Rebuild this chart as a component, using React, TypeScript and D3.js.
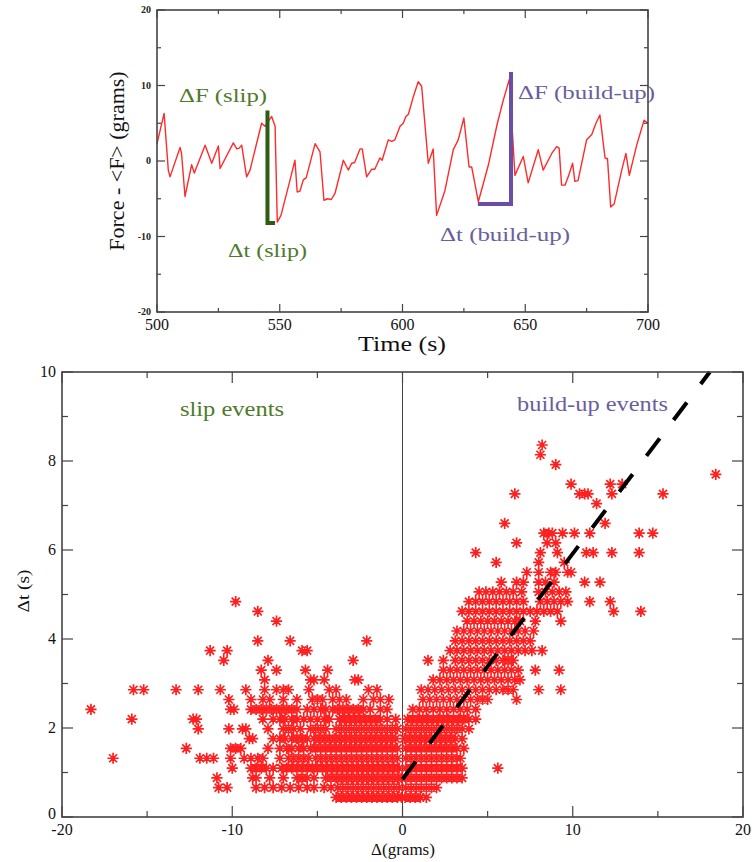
import React from "react";
import * as d3 from "d3";

// ---------- top panel: force trace ----------
const timeS = [500.0, 502.9, 504.6, 505.3, 509.4, 510.0, 511.4, 514.1, 515.2, 519.6, 522.3, 525.0, 525.7, 531.1, 532.5, 533.5, 534.5, 536.5, 537.9, 542.6, 544.0, 546.7, 548.1, 549.0, 550.5, 554.2, 556.2, 557.1, 558.2, 559.6, 560.8, 564.4, 566.4, 568.0, 569.5, 571.0, 572.5, 575.9, 577.9, 579.3, 580.5, 582.7, 583.6, 585.4, 587.4, 588.7, 590.8, 591.7, 594.2, 595.6, 596.9, 599.0, 600.3, 601.4, 602.4, 604.4, 606.4, 607.8, 610.5, 612.5, 613.9, 617.3, 620.7, 622.7, 625.0, 627.1, 628.2, 630.9, 635.0, 638.5, 641.0, 643.5, 645.8, 649.2, 651.2, 655.3, 657.3, 660.8, 662.8, 663.8, 664.8, 666.2, 667.5, 669.3, 670.2, 671.5, 675.0, 677.1, 678.8, 680.4, 682.5, 683.5, 684.8, 686.2, 689.3, 691.0, 692.4, 695.4, 698.4, 700.0];
const forceG = [2.3, 6.3, -1.2, -2.1, 1.8, 1.0, -4.7, -0.5, -1.6, 2.1, -0.3, 2.0, -1.0, 2.4, 1.6, 1.7, 2.1, -2.1, -1.2, 5.0, 4.6, 5.9, 4.6, -8.1, -7.2, -2.5, 0.1, -4.1, -4.0, -2.5, -2.2, 2.3, 1.2, -5.2, -5.0, -5.1, -4.3, 0.1, -1.2, -0.3, -0.2, 1.6, 1.6, -2.1, -1.1, -1.1, 0.4, 0.1, 2.8, 2.6, 2.8, 4.6, 5.0, 5.9, 6.2, 8.5, 10.5, 9.9, -0.3, 1.6, -7.2, -3.9, 1.5, 2.8, 5.7, -0.8, -0.8, -5.4, -0.5, 4.8, 8.0, 10.8, -1.9, 0.6, -2.9, 1.5, -1.2, 1.0, 1.9, 1.7, -3.2, -3.2, -2.1, -0.3, -2.7, -2.6, 2.8, 3.5, 5.0, 6.1, 0.4, 0.3, -6.1, -5.7, -1.2, 1.0, -1.9, 2.1, 5.4, 5.0];

// annotation bars (time, force)
const slipBarT = [545.0, 548.1];
const slipBarF = [6.7, -8.2];
const buildBarT = [630.7, 644.2];
const buildBarF = [-5.7, 11.8];

const topXTicks = [500, 550, 600, 650, 700];
const topXMinor = [525, 575, 625, 675];
const topYTicks = [-20, -10, 0, 10, 20];
const topYMinor = [-15, -5, 5, 15];

// ---------- bottom panel: scatter ----------
const dtLevels = [0.44, 0.66, 0.88, 1.10, 1.32, 1.54, 1.76, 1.98, 2.20, 2.42, 2.64, 2.86, 3.08, 3.30, 3.52, 3.74, 3.96, 4.18, 4.40, 4.62, 4.84, 5.06, 5.28, 5.50, 5.72, 5.94, 6.16, 6.38, 6.60, 6.82, 7.04, 7.26, 7.48, 7.70, 7.92, 8.14, 8.36];

const slipDF: number[][] = [
  [-3.9, -3.6, -3.3, -3.0, -2.7, -2.4, -2.1, -1.8, -1.5, -1.2, -0.9, -0.6, -0.3, -0.05],
  [-10.8, -10.3, -8.6, -8.1, -7.6, -7.1, -6.6, -6.1, -5.6, -5.2, -4.6, -4.2, -3.8, -3.5, -3.2, -2.9, -2.6, -2.3, -2.0, -1.7, -1.4, -1.1, -0.8, -0.5, -0.2],
  [-10.9, -8.8, -8.6, -7.8, -7.0, -6.2, -5.9, -5.6, -5.2, -4.5, -4.2, -3.9, -3.6, -3.3, -3.0, -2.7, -2.4, -2.1, -1.8, -1.5, -1.2, -0.9, -0.6, -0.3, -0.05],
  [-10.0, -8.9, -8.6, -8.3, -8.0, -7.6, -7.1, -6.8, -6.5, -6.2, -5.9, -5.6, -5.3, -5.0, -4.7, -4.4, -4.1, -3.8, -3.5, -3.2, -2.9, -2.6, -2.3, -2.0, -1.7, -1.4, -1.1, -0.8, -0.5, -0.2],
  [-17.0, -11.9, -11.5, -11.1, -10.1, -9.3, -8.9, -8.5, -8.2, -7.2, -6.7, -6.4, -6.1, -5.8, -5.5, -5.1, -4.8, -4.5, -4.2, -3.9, -3.6, -3.3, -3.0, -2.7, -2.4, -2.1, -1.8, -1.5, -1.2, -0.9, -0.6, -0.3],
  [-12.7, -10.1, -9.8, -9.5, -7.9, -7.2, -6.8, -6.5, -6.1, -5.8, -5.4, -5.1, -4.8, -4.5, -4.2, -3.9, -3.6, -3.3, -3.0, -2.7, -2.4, -2.1, -1.8, -1.5, -1.2, -0.9, -0.6, -0.3],
  [-9.0, -8.8, -7.6, -7.2, -6.9, -6.5, -6.2, -5.9, -5.6, -5.2, -4.9, -4.6, -4.3, -4.0, -3.7, -3.4, -3.1, -2.8, -2.5, -2.2, -1.9, -1.6, -1.3, -1.0, -0.7, -0.4],
  [-12.0, -10.2, -9.4, -9.2, -7.9, -7.0, -6.7, -6.4, -6.0, -5.4, -5.1, -4.8, -4.5, -3.9, -3.6, -3.3, -3.0, -2.7, -2.4, -2.1, -1.8, -1.5, -1.2, -0.9, -0.6, -0.3],
  [-15.9, -12.3, -12.1, -8.2, -7.6, -7.2, -6.9, -6.5, -6.2, -5.8, -5.4, -5.0, -4.6, -4.3, -3.7, -3.4, -3.1, -2.8, -2.5, -2.2, -1.9, -1.6, -1.3, -0.9, -0.4],
  [-18.3, -10.1, -9.9, -8.9, -8.6, -8.3, -8.0, -7.7, -7.4, -7.1, -6.8, -6.5, -6.2, -5.6, -5.2, -4.8, -4.5, -4.1, -3.8, -3.5, -3.2, -2.9, -2.6, -2.3, -1.9, -1.3, -0.9],
  [-10.2, -8.9, -8.2, -7.8, -7.0, -6.2, -5.3, -5.0, -4.7, -4.1, -3.7, -3.3, -2.3, -1.7, -1.3, -0.8],
  [-15.8, -15.2, -13.3, -12.0, -10.7, -9.2, -8.1, -7.4, -7.0, -6.7, -5.5, -4.3, -3.9, -2.0, -1.5],
  [-8.1, -5.4, -5.2, -4.6, -2.8, -2.6],
  [-8.3, -7.4, -5.7, -4.4],
  [-10.5, -7.9, -2.9],
  [-11.3, -10.3, -5.9, -5.6],
  [-8.5, -6.6, -2.1],
  [],
  [-7.4],
  [-8.5],
  [-9.8],
  [], [], [], [], [], [], [], [], [], [], [], [], [], [], [], [],
];

const buildDF: number[][] = [
  [0.15, 0.45, 0.75, 1.05, 1.4],
  [0.2, 0.5, 0.8, 1.1, 1.4, 1.7, 2.0],
  [0.2, 0.5, 0.8, 1.1, 1.4, 1.7, 2.0, 2.3, 2.6, 2.9, 3.2, 3.5],
  [0.2, 0.5, 0.8, 1.1, 1.4, 1.7, 2.0, 2.3, 2.6, 2.9, 3.2, 3.5, 5.6],
  [0.2, 0.5, 0.8, 1.1, 1.4, 1.7, 2.0, 2.3, 2.6, 2.9, 3.2, 3.4],
  [0.2, 0.5, 0.8, 1.1, 1.4, 1.7, 2.0, 2.3, 2.6, 2.9, 3.2, 3.6],
  [0.1, 0.4, 0.7, 1.0, 1.3, 1.6, 1.9, 2.2, 2.5, 2.8, 3.1, 3.5],
  [0.2, 0.5, 0.8, 1.1, 1.4, 1.7, 2.0, 2.3, 2.6, 2.9, 3.2, 3.5, 3.9],
  [0.3, 0.6, 0.9, 1.2, 1.5, 1.8, 2.1, 2.4, 2.7, 3.0, 3.3, 3.6, 3.9, 4.3],
  [0.6, 1.0, 1.4, 1.8, 2.2, 2.6, 3.0, 3.4, 3.8, 4.3],
  [1.2, 1.6, 2.0, 2.4, 2.8, 3.2, 3.6, 4.0, 4.4, 4.7, 5.0, 6.7],
  [1.1, 1.5, 1.9, 2.3, 2.7, 3.1, 3.5, 3.9, 4.3, 4.7, 5.1, 5.5, 5.9, 6.2, 6.5, 8.0, 9.3],
  [1.8, 2.2, 2.6, 3.0, 3.4, 3.8, 4.2, 4.6, 5.0, 5.4, 5.8, 6.2, 6.6, 6.9],
  [2.4, 2.8, 3.2, 3.6, 4.0, 4.4, 4.8, 5.2, 5.6, 6.0, 6.4, 6.8, 7.8, 9.2],
  [1.5, 2.4, 3.1, 3.5, 3.9, 4.3, 4.7, 5.1, 5.5, 5.9, 6.2, 6.5],
  [2.8, 3.2, 3.6, 4.0, 4.4, 4.8, 5.2, 5.6, 6.0, 6.4, 6.8, 7.2, 7.6, 8.2],
  [3.1, 3.5, 3.9, 4.3, 4.7, 5.1, 5.5, 5.9, 6.3, 6.7, 7.1, 7.5],
  [3.2, 3.6, 4.0, 4.4, 4.8, 5.2, 5.6, 6.0, 6.4, 6.8, 7.2, 7.7],
  [3.8, 4.2, 4.6, 5.0, 5.4, 5.8, 6.2, 6.6, 6.9, 7.8, 9.3],
  [3.5, 3.9, 4.3, 4.7, 5.1, 5.5, 5.9, 6.3, 6.7, 7.1, 7.5, 7.9, 8.3, 8.7, 9.1, 12.4, 14.0],
  [3.9, 4.3, 4.7, 5.1, 5.5, 5.9, 6.3, 6.7, 7.1, 8.1, 8.5, 8.9, 9.3, 9.7, 11.0, 12.2],
  [4.5, 4.9, 5.3, 5.7, 6.1, 6.5, 7.0, 8.0, 8.4, 8.8, 9.2, 9.6],
  [5.8, 6.7, 7.1, 8.0, 8.4, 8.9, 10.7, 11.6],
  [7.3, 8.0, 8.7, 9.0, 9.7, 9.9],
  [5.5, 8.0, 9.5],
  [4.3, 8.1, 9.1, 10.8, 11.2, 12.3, 13.9],
  [6.7, 8.5, 9.0],
  [8.3, 8.6, 8.8, 9.4, 10.1, 11.0, 13.9, 14.7],
  [6.0, 11.9],
  [],
  [11.4],
  [6.6, 10.4, 10.7, 10.9, 12.3, 15.3],
  [9.9, 12.2, 12.9],
  [18.4],
  [9.0],
  [8.1],
  [8.2],
];

// dashed fit line endpoints
const fitDF = [0, 18.05];
const fitDt = [0.85, 10];

const botXTicks = [-20, -10, 0, 10, 20];
const botXMinor = [-15, -5, 5, 15];
const botYTicks = [0, 2, 4, 6, 8, 10];
const botYMinor = [1, 3, 5, 7, 9];

const SERIF = "'Liberation Serif', 'Times New Roman', serif";
const GREEN_TXT = "#4f7a2c";
const GREEN_BAR = "#2e5c12";
const PURPLE_TXT = "#6a5e9e";
const PURPLE_BAR = "#6a4ea6";
const FRAME = "#444";

function fmt(v: number) {
  return String(v);
}

export default function App() {
  // top scales
  const tx = d3.scaleLinear().domain([500, 700]).range([157, 648]);
  const ty = d3.scaleLinear().domain([-20, 20]).range([312, 10]);
  // bottom scales
  const bx = d3.scaleLinear().domain([-20, 20]).range([62, 743]);
  const by = d3.scaleLinear().domain([0, 10]).range([817, 372]);

  const tracePath =
    d3
      .line<number>()
      .x((_, i) => tx(timeS[i]))
      .y((d) => ty(d))(forceG) || "";

  const pts: [number, number][] = [];
  slipDF.forEach((row, i) => row.forEach((v) => pts.push([v, dtLevels[i]])));
  buildDF.forEach((row, i) => row.forEach((v) => pts.push([v, dtLevels[i]])));
  const r = 5.6;
  const dd = 4.0;
  const starPath = pts
    .map(([x, y]) => {
      const X = bx(x);
      const Y = by(y);
      return `M${X - r},${Y}h${2 * r}M${X},${Y - r}v${2 * r}M${X - dd},${Y - dd}l${2 * dd},${2 * dd}M${X - dd},${Y + dd}l${2 * dd},${-2 * dd}`;
    })
    .join("");

  const [tx0, tx1] = tx.range();
  const [ty0, ty1] = ty.range(); // bottom, top
  const [bx0, bx1] = bx.range();
  const [by0, by1] = by.range();

  const topMaj = 8;
  const topMin = 4;
  const botMaj = 11;
  const botMin = 6;

  return (
    <svg
      width={755}
      height={862}
      style={{ position: "absolute", left: 0, top: 0, background: "#fff" }}
      fontFamily={SERIF}
    >
      <rect x={0} y={0} width={755} height={862} fill="#fff" />

      {/* ================= TOP PANEL ================= */}
      <path d={tracePath} fill="none" stroke="#ff2a2a" strokeWidth={1.4} strokeLinejoin="round" />

      {/* slip bar */}
      <path
        d={`M${tx(slipBarT[0])},${ty(slipBarF[0])}V${ty(slipBarF[1])}H${tx(slipBarT[1])}`}
        fill="none"
        stroke={GREEN_BAR}
        strokeWidth={4}
      />
      {/* build-up bar */}
      <path
        d={`M${tx(buildBarT[0])},${ty(buildBarF[0])}H${tx(buildBarT[1])}V${ty(buildBarF[1])}`}
        fill="none"
        stroke={PURPLE_BAR}
        strokeWidth={4}
      />

      <text x={179} y={102} fontSize={19} fill={GREEN_TXT} textLength={88} lengthAdjust="spacingAndGlyphs">
        ΔF (slip)
      </text>
      <text x={228} y={257} fontSize={19} fill={GREEN_TXT} textLength={79} lengthAdjust="spacingAndGlyphs">
        Δt (slip)
      </text>
      <text x={518} y={99} fontSize={19} fill={PURPLE_TXT} textLength={137} lengthAdjust="spacingAndGlyphs">
        ΔF (build-up)
      </text>
      <text x={440} y={241} fontSize={19} fill={PURPLE_TXT} textLength={130} lengthAdjust="spacingAndGlyphs">
        Δt (build-up)
      </text>

      {/* ticks top panel */}
      <g stroke={FRAME} strokeWidth={1.2}>
        {topXTicks.map((t) => (
          <g key={"tx" + t}>
            <line x1={tx(t)} x2={tx(t)} y1={ty0} y2={ty0 - topMaj} />
            <line x1={tx(t)} x2={tx(t)} y1={ty1} y2={ty1 + topMaj} />
          </g>
        ))}
        {topXMinor.map((t) => (
          <g key={"txm" + t}>
            <line x1={tx(t)} x2={tx(t)} y1={ty0} y2={ty0 - topMin} />
            <line x1={tx(t)} x2={tx(t)} y1={ty1} y2={ty1 + topMin} />
          </g>
        ))}
        {topYTicks.map((v) => (
          <g key={"ty" + v}>
            <line x1={tx0} x2={tx0 + topMaj} y1={ty(v)} y2={ty(v)} />
            <line x1={tx1} x2={tx1 - topMaj} y1={ty(v)} y2={ty(v)} />
          </g>
        ))}
        {topYMinor.map((v) => (
          <g key={"tym" + v}>
            <line x1={tx0} x2={tx0 + topMin} y1={ty(v)} y2={ty(v)} />
            <line x1={tx1} x2={tx1 - topMin} y1={ty(v)} y2={ty(v)} />
          </g>
        ))}
      </g>
      <rect x={tx0} y={ty1} width={tx1 - tx0} height={ty0 - ty1} fill="none" stroke={FRAME} strokeWidth={1.6} />

      {topXTicks.map((t) => (
        <text key={"txl" + t} x={tx(t)} y={330} fontSize={16} textAnchor="middle" fill="#111">
          {fmt(t)}
        </text>
      ))}
      {topYTicks.map((v) => (
        <text key={"tyl" + v} x={151} y={ty(v) + 3} fontSize={10} fontWeight="bold" textAnchor="end" fill="#222">
          {fmt(v)}
        </text>
      ))}
      <text x={402} y={351} fontSize={21} textAnchor="middle" fill="#111" textLength={88} lengthAdjust="spacingAndGlyphs">
        Time (s)
      </text>
      <text transform="translate(124,161) rotate(-90)" fontSize={22} textAnchor="middle" fill="#111">
        Force - &lt;F&gt; (grams)
      </text>

      {/* ================= BOTTOM PANEL ================= */}
      <line x1={bx(0)} x2={bx(0)} y1={by0} y2={by1} stroke="#444" strokeWidth={1} />
      <path d={starPath} fill="none" stroke="#ff1f1f" strokeWidth={1.7} />
      <line
        x1={bx(fitDF[0])}
        y1={by(fitDt[0])}
        x2={bx(fitDF[1])}
        y2={by(fitDt[1])}
        stroke="#000"
        strokeWidth={4}
        strokeDasharray="22,23"
      />

      <g stroke={FRAME} strokeWidth={1.2}>
        {botXTicks.map((t) => (
          <g key={"bx" + t}>
            <line x1={bx(t)} x2={bx(t)} y1={by0} y2={by0 - botMaj} />
            <line x1={bx(t)} x2={bx(t)} y1={by1} y2={by1 + botMaj} />
          </g>
        ))}
        {botXMinor.map((t) => (
          <g key={"bxm" + t}>
            <line x1={bx(t)} x2={bx(t)} y1={by0} y2={by0 - botMin} />
            <line x1={bx(t)} x2={bx(t)} y1={by1} y2={by1 + botMin} />
          </g>
        ))}
        {botYTicks.map((v) => (
          <g key={"by" + v}>
            <line x1={bx0} x2={bx0 + botMaj} y1={by(v)} y2={by(v)} />
            <line x1={bx1} x2={bx1 - botMaj} y1={by(v)} y2={by(v)} />
          </g>
        ))}
        {botYMinor.map((v) => (
          <g key={"bym" + v}>
            <line x1={bx0} x2={bx0 + botMin} y1={by(v)} y2={by(v)} />
            <line x1={bx1} x2={bx1 - botMin} y1={by(v)} y2={by(v)} />
          </g>
        ))}
      </g>
      <rect x={bx0} y={by1} width={bx1 - bx0} height={by0 - by1} fill="none" stroke={FRAME} strokeWidth={1.6} />

      {botXTicks.map((t) => (
        <text key={"bxl" + t} x={bx(t)} y={835} fontSize={16} textAnchor="middle" fill="#111">
          {fmt(t)}
        </text>
      ))}
      {botYTicks.map((v) => (
        <text key={"byl" + v} x={56} y={by(v) + (v === 0 ? 2 : 5)} fontSize={16} textAnchor="end" fill="#111">
          {fmt(v)}
        </text>
      ))}
      <text x={403} y={855} fontSize={17} textAnchor="middle" fill="#111">
        Δ(grams)
      </text>
      <text transform="translate(29,591) rotate(-90)" fontSize={16} textAnchor="middle" fill="#111" textLength={43} lengthAdjust="spacingAndGlyphs">
        Δt (s)
      </text>

      <text x={180} y={416} fontSize={20} fill={GREEN_TXT} textLength={104} lengthAdjust="spacingAndGlyphs">
        slip events
      </text>
      <text x={517} y={411} fontSize={20} fill={PURPLE_TXT} textLength={151} lengthAdjust="spacingAndGlyphs">
        build-up events
      </text>
    </svg>
  );
}
